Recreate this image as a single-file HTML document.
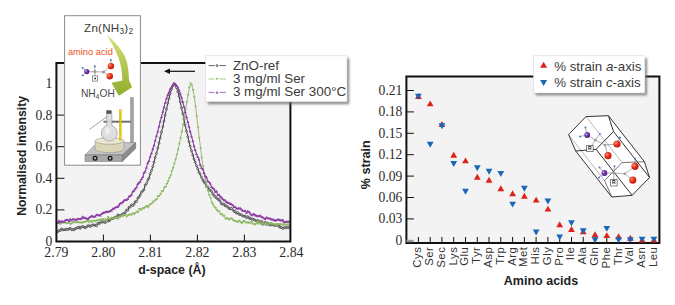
<!DOCTYPE html><html><head><meta charset="utf-8"><style>html,body{margin:0;padding:0;background:#fff;}svg{display:block;}</style></head><body><svg width="675" height="305" viewBox="0 0 675 305"><defs><symbol id="mk_b" overflow="visible"><circle cx="0" cy="0" r="1.0" fill="#d8d8d8" stroke="#333" stroke-width="0.7"/></symbol><symbol id="mk_g" overflow="visible"><path d="M-1.4,-1 L1.4,-1 L0,1.3 Z" fill="#8fb865"/></symbol><symbol id="mk_p" overflow="visible"><path d="M-1.5,1 L1.5,1 L0,-1.5 Z" fill="#8e40a2"/></symbol><linearGradient id="ga" x1="0" y1="0" x2="0" y2="1"><stop offset="0" stop-color="#d7e07a"/><stop offset="1" stop-color="#8fae2a"/></linearGradient><filter id="blur" x="-10%" y="-10%" width="120%" height="130%"><feGaussianBlur stdDeviation="1.3"/></filter><radialGradient id="gred" cx="0.35" cy="0.35" r="0.7"><stop offset="0" stop-color="#ff9a80"/><stop offset="0.45" stop-color="#e8321c"/><stop offset="1" stop-color="#c21a0c"/></radialGradient><radialGradient id="gpur" cx="0.35" cy="0.35" r="0.7"><stop offset="0" stop-color="#c8a0e8"/><stop offset="0.45" stop-color="#6b36a8"/><stop offset="1" stop-color="#4a2080"/></radialGradient></defs><rect width="675" height="305" fill="#fff"/><rect x="56.4" y="63.0" width="233.99999999999997" height="178.5" fill="#f3f3f3"/>
<path d="M57.8,231.7 L59.0,230.7 L60.2,230.4 L61.5,229.0 L62.8,229.9 L64.0,229.7 L65.2,229.7 L66.5,229.2 L67.8,229.5 L69.0,229.0 L70.2,228.3 L71.5,229.6 L72.8,229.5 L74.0,229.8 L75.2,228.6 L76.5,228.1 L77.8,227.8 L79.0,227.0 L80.2,228.4 L81.5,226.9 L82.8,226.6 L84.0,227.0 L85.2,227.9 L86.5,226.9 L87.8,225.8 L89.0,225.7 L90.2,226.4 L91.5,225.6 L92.8,224.9 L94.0,225.0 L95.2,225.3 L96.5,225.8 L97.8,223.4 L99.0,223.4 L100.2,223.0 L101.5,221.5 L102.8,222.1 L104.0,221.7 L105.2,222.6 L106.5,221.4 L107.8,220.0 L109.0,221.0 L110.2,219.8 L111.5,218.4 L112.8,218.6 L114.0,218.0 L115.2,217.2 L116.5,217.2 L117.8,215.0 L119.0,215.6 L120.2,215.7 L121.5,214.8 L122.8,214.2 L124.0,213.3 L125.2,212.6 L126.5,210.0 L127.8,210.2 L129.0,207.3 L130.2,207.0 L131.5,204.9 L132.8,205.5 L134.0,204.3 L135.2,201.8 L136.5,201.5 L137.8,198.2 L139.0,197.0 L140.2,195.0 L141.5,192.2 L142.8,190.9 L144.0,189.5 L145.2,185.1 L146.5,183.6 L147.8,180.0 L149.0,178.1 L150.2,173.9 L151.5,170.4 L152.8,166.6 L154.0,162.2 L155.2,157.4 L156.5,153.4 L157.8,148.0 L159.0,143.2 L160.2,137.9 L161.5,132.1 L162.8,126.6 L164.0,121.0 L165.2,115.0 L166.5,109.2 L167.8,103.2 L169.0,98.4 L170.2,93.6 L171.5,89.4 L172.8,85.7 L174.0,83.6 L175.2,84.7 L176.5,87.5 L177.8,91.6 L179.0,96.1 L180.2,101.6 L181.5,107.9 L182.8,113.7 L184.0,119.3 L185.2,125.4 L186.5,131.2 L187.8,136.8 L189.0,141.7 L190.2,146.3 L191.5,150.7 L192.8,155.1 L194.0,159.1 L195.2,162.1 L196.5,165.7 L197.8,168.7 L199.0,172.3 L200.2,174.1 L201.5,177.4 L202.8,180.0 L204.0,181.9 L205.2,183.2 L206.5,186.5 L207.8,187.1 L209.0,189.5 L210.2,190.4 L211.5,191.3 L212.8,194.1 L214.0,195.5 L215.2,196.6 L216.5,198.1 L217.8,198.8 L219.0,199.9 L220.2,201.3 L221.5,203.8 L222.8,204.1 L224.0,204.2 L225.2,205.8 L226.5,206.0 L227.8,206.9 L229.0,208.6 L230.2,208.5 L231.5,208.5 L232.8,209.8 L234.0,211.1 L235.2,211.8 L236.5,213.2 L237.8,212.6 L239.0,214.2 L240.2,214.6 L241.5,214.8 L242.8,216.0 L244.0,216.3 L245.2,216.0 L246.5,217.7 L247.8,216.7 L249.0,218.1 L250.2,218.5 L251.5,219.2 L252.8,218.9 L254.0,219.8 L255.2,220.2 L256.5,221.3 L257.8,220.5 L259.0,221.5 L260.2,221.7 L261.5,221.3 L262.8,224.3 L264.0,222.9 L265.2,222.3 L266.5,224.5 L267.8,223.2 L269.0,224.5 L270.2,225.1 L271.5,224.4 L272.8,224.8 L274.0,225.1 L275.2,225.6 L276.5,224.9 L277.8,225.4 L279.0,226.4 L280.2,227.4 L281.5,227.4 L282.8,228.4 L284.0,227.9 L285.2,227.4 L286.5,227.9 L287.8,226.9 L289.0,227.8" fill="none" stroke="#333333" stroke-width="1.0" stroke-linejoin="round"/>
<use href="#mk_b" x="57.8" y="231.7"/><use href="#mk_b" x="59.0" y="230.7"/><use href="#mk_b" x="60.2" y="230.4"/><use href="#mk_b" x="61.5" y="229.0"/><use href="#mk_b" x="62.8" y="229.9"/><use href="#mk_b" x="64.0" y="229.7"/><use href="#mk_b" x="65.2" y="229.7"/><use href="#mk_b" x="66.5" y="229.2"/><use href="#mk_b" x="67.8" y="229.5"/><use href="#mk_b" x="69.0" y="229.0"/><use href="#mk_b" x="70.2" y="228.3"/><use href="#mk_b" x="71.5" y="229.6"/><use href="#mk_b" x="72.8" y="229.5"/><use href="#mk_b" x="74.0" y="229.8"/><use href="#mk_b" x="75.2" y="228.6"/><use href="#mk_b" x="76.5" y="228.1"/><use href="#mk_b" x="77.8" y="227.8"/><use href="#mk_b" x="79.0" y="227.0"/><use href="#mk_b" x="80.2" y="228.4"/><use href="#mk_b" x="81.5" y="226.9"/><use href="#mk_b" x="82.8" y="226.6"/><use href="#mk_b" x="84.0" y="227.0"/><use href="#mk_b" x="85.2" y="227.9"/><use href="#mk_b" x="86.5" y="226.9"/><use href="#mk_b" x="87.8" y="225.8"/><use href="#mk_b" x="89.0" y="225.7"/><use href="#mk_b" x="90.2" y="226.4"/><use href="#mk_b" x="91.5" y="225.6"/><use href="#mk_b" x="92.8" y="224.9"/><use href="#mk_b" x="94.0" y="225.0"/><use href="#mk_b" x="95.2" y="225.3"/><use href="#mk_b" x="96.5" y="225.8"/><use href="#mk_b" x="97.8" y="223.4"/><use href="#mk_b" x="99.0" y="223.4"/><use href="#mk_b" x="100.2" y="223.0"/><use href="#mk_b" x="101.5" y="221.5"/><use href="#mk_b" x="102.8" y="222.1"/><use href="#mk_b" x="104.0" y="221.7"/><use href="#mk_b" x="105.2" y="222.6"/><use href="#mk_b" x="106.5" y="221.4"/><use href="#mk_b" x="107.8" y="220.0"/><use href="#mk_b" x="109.0" y="221.0"/><use href="#mk_b" x="110.2" y="219.8"/><use href="#mk_b" x="111.5" y="218.4"/><use href="#mk_b" x="112.8" y="218.6"/><use href="#mk_b" x="114.0" y="218.0"/><use href="#mk_b" x="115.2" y="217.2"/><use href="#mk_b" x="116.5" y="217.2"/><use href="#mk_b" x="117.8" y="215.0"/><use href="#mk_b" x="119.0" y="215.6"/><use href="#mk_b" x="120.2" y="215.7"/><use href="#mk_b" x="121.5" y="214.8"/><use href="#mk_b" x="122.8" y="214.2"/><use href="#mk_b" x="124.0" y="213.3"/><use href="#mk_b" x="125.2" y="212.6"/><use href="#mk_b" x="126.5" y="210.0"/><use href="#mk_b" x="127.8" y="210.2"/><use href="#mk_b" x="129.0" y="207.3"/><use href="#mk_b" x="130.2" y="207.0"/><use href="#mk_b" x="131.5" y="204.9"/><use href="#mk_b" x="132.8" y="205.5"/><use href="#mk_b" x="134.0" y="204.3"/><use href="#mk_b" x="135.2" y="201.8"/><use href="#mk_b" x="136.5" y="201.5"/><use href="#mk_b" x="137.8" y="198.2"/><use href="#mk_b" x="139.0" y="197.0"/><use href="#mk_b" x="140.2" y="195.0"/><use href="#mk_b" x="141.5" y="192.2"/><use href="#mk_b" x="142.8" y="190.9"/><use href="#mk_b" x="144.0" y="189.5"/><use href="#mk_b" x="145.2" y="185.1"/><use href="#mk_b" x="146.5" y="183.6"/><use href="#mk_b" x="147.8" y="180.0"/><use href="#mk_b" x="149.0" y="178.1"/><use href="#mk_b" x="150.2" y="173.9"/><use href="#mk_b" x="151.5" y="170.4"/><use href="#mk_b" x="152.8" y="166.6"/><use href="#mk_b" x="154.0" y="162.2"/><use href="#mk_b" x="155.2" y="157.4"/><use href="#mk_b" x="156.5" y="153.4"/><use href="#mk_b" x="157.8" y="148.0"/><use href="#mk_b" x="159.0" y="143.2"/><use href="#mk_b" x="160.2" y="137.9"/><use href="#mk_b" x="161.5" y="132.1"/><use href="#mk_b" x="162.8" y="126.6"/><use href="#mk_b" x="164.0" y="121.0"/><use href="#mk_b" x="165.2" y="115.0"/><use href="#mk_b" x="166.5" y="109.2"/><use href="#mk_b" x="167.8" y="103.2"/><use href="#mk_b" x="169.0" y="98.4"/><use href="#mk_b" x="170.2" y="93.6"/><use href="#mk_b" x="171.5" y="89.4"/><use href="#mk_b" x="172.8" y="85.7"/><use href="#mk_b" x="174.0" y="83.6"/><use href="#mk_b" x="175.2" y="84.7"/><use href="#mk_b" x="176.5" y="87.5"/><use href="#mk_b" x="177.8" y="91.6"/><use href="#mk_b" x="179.0" y="96.1"/><use href="#mk_b" x="180.2" y="101.6"/><use href="#mk_b" x="181.5" y="107.9"/><use href="#mk_b" x="182.8" y="113.7"/><use href="#mk_b" x="184.0" y="119.3"/><use href="#mk_b" x="185.2" y="125.4"/><use href="#mk_b" x="186.5" y="131.2"/><use href="#mk_b" x="187.8" y="136.8"/><use href="#mk_b" x="189.0" y="141.7"/><use href="#mk_b" x="190.2" y="146.3"/><use href="#mk_b" x="191.5" y="150.7"/><use href="#mk_b" x="192.8" y="155.1"/><use href="#mk_b" x="194.0" y="159.1"/><use href="#mk_b" x="195.2" y="162.1"/><use href="#mk_b" x="196.5" y="165.7"/><use href="#mk_b" x="197.8" y="168.7"/><use href="#mk_b" x="199.0" y="172.3"/><use href="#mk_b" x="200.2" y="174.1"/><use href="#mk_b" x="201.5" y="177.4"/><use href="#mk_b" x="202.8" y="180.0"/><use href="#mk_b" x="204.0" y="181.9"/><use href="#mk_b" x="205.2" y="183.2"/><use href="#mk_b" x="206.5" y="186.5"/><use href="#mk_b" x="207.8" y="187.1"/><use href="#mk_b" x="209.0" y="189.5"/><use href="#mk_b" x="210.2" y="190.4"/><use href="#mk_b" x="211.5" y="191.3"/><use href="#mk_b" x="212.8" y="194.1"/><use href="#mk_b" x="214.0" y="195.5"/><use href="#mk_b" x="215.2" y="196.6"/><use href="#mk_b" x="216.5" y="198.1"/><use href="#mk_b" x="217.8" y="198.8"/><use href="#mk_b" x="219.0" y="199.9"/><use href="#mk_b" x="220.2" y="201.3"/><use href="#mk_b" x="221.5" y="203.8"/><use href="#mk_b" x="222.8" y="204.1"/><use href="#mk_b" x="224.0" y="204.2"/><use href="#mk_b" x="225.2" y="205.8"/><use href="#mk_b" x="226.5" y="206.0"/><use href="#mk_b" x="227.8" y="206.9"/><use href="#mk_b" x="229.0" y="208.6"/><use href="#mk_b" x="230.2" y="208.5"/><use href="#mk_b" x="231.5" y="208.5"/><use href="#mk_b" x="232.8" y="209.8"/><use href="#mk_b" x="234.0" y="211.1"/><use href="#mk_b" x="235.2" y="211.8"/><use href="#mk_b" x="236.5" y="213.2"/><use href="#mk_b" x="237.8" y="212.6"/><use href="#mk_b" x="239.0" y="214.2"/><use href="#mk_b" x="240.2" y="214.6"/><use href="#mk_b" x="241.5" y="214.8"/><use href="#mk_b" x="242.8" y="216.0"/><use href="#mk_b" x="244.0" y="216.3"/><use href="#mk_b" x="245.2" y="216.0"/><use href="#mk_b" x="246.5" y="217.7"/><use href="#mk_b" x="247.8" y="216.7"/><use href="#mk_b" x="249.0" y="218.1"/><use href="#mk_b" x="250.2" y="218.5"/><use href="#mk_b" x="251.5" y="219.2"/><use href="#mk_b" x="252.8" y="218.9"/><use href="#mk_b" x="254.0" y="219.8"/><use href="#mk_b" x="255.2" y="220.2"/><use href="#mk_b" x="256.5" y="221.3"/><use href="#mk_b" x="257.8" y="220.5"/><use href="#mk_b" x="259.0" y="221.5"/><use href="#mk_b" x="260.2" y="221.7"/><use href="#mk_b" x="261.5" y="221.3"/><use href="#mk_b" x="262.8" y="224.3"/><use href="#mk_b" x="264.0" y="222.9"/><use href="#mk_b" x="265.2" y="222.3"/><use href="#mk_b" x="266.5" y="224.5"/><use href="#mk_b" x="267.8" y="223.2"/><use href="#mk_b" x="269.0" y="224.5"/><use href="#mk_b" x="270.2" y="225.1"/><use href="#mk_b" x="271.5" y="224.4"/><use href="#mk_b" x="272.8" y="224.8"/><use href="#mk_b" x="274.0" y="225.1"/><use href="#mk_b" x="275.2" y="225.6"/><use href="#mk_b" x="276.5" y="224.9"/><use href="#mk_b" x="277.8" y="225.4"/><use href="#mk_b" x="279.0" y="226.4"/><use href="#mk_b" x="280.2" y="227.4"/><use href="#mk_b" x="281.5" y="227.4"/><use href="#mk_b" x="282.8" y="228.4"/><use href="#mk_b" x="284.0" y="227.9"/><use href="#mk_b" x="285.2" y="227.4"/><use href="#mk_b" x="286.5" y="227.9"/><use href="#mk_b" x="287.8" y="226.9"/><use href="#mk_b" x="289.0" y="227.8"/>
<path d="M58.1,222.8 L59.3,223.6 L60.6,223.8 L61.8,222.9 L63.1,222.8 L64.3,222.1 L65.6,223.0 L66.8,223.2 L68.1,223.2 L69.3,222.3 L70.6,224.1 L71.8,223.5 L73.1,222.5 L74.3,222.2 L75.6,222.2 L76.8,222.4 L78.1,222.2 L79.3,222.5 L80.6,222.5 L81.8,222.8 L83.1,222.6 L84.3,221.7 L85.6,221.9 L86.8,221.3 L88.1,221.0 L89.3,222.5 L90.6,220.9 L91.8,222.3 L93.1,220.7 L94.3,220.9 L95.6,221.3 L96.8,220.5 L98.1,220.6 L99.3,220.0 L100.6,219.7 L101.8,219.8 L103.1,219.3 L104.3,220.6 L105.6,219.2 L106.8,220.3 L108.1,217.2 L109.3,218.8 L110.6,218.9 L111.8,218.2 L113.1,218.8 L114.3,218.3 L115.6,217.5 L116.8,217.7 L118.1,219.0 L119.3,217.1 L120.6,216.8 L121.8,216.0 L123.1,216.1 L124.3,214.9 L125.6,215.3 L126.8,216.6 L128.1,215.4 L129.3,214.7 L130.6,214.6 L131.8,214.7 L133.1,213.5 L134.3,214.0 L135.6,212.9 L136.8,211.8 L138.1,212.3 L139.3,209.1 L140.6,209.6 L141.8,209.6 L143.1,208.2 L144.3,208.0 L145.6,206.9 L146.8,206.1 L148.1,207.5 L149.3,205.3 L150.6,203.9 L151.8,203.8 L153.1,201.8 L154.3,201.4 L155.6,199.8 L156.8,199.4 L158.1,196.0 L159.3,195.9 L160.6,193.9 L161.8,191.3 L163.1,190.9 L164.3,187.6 L165.6,187.0 L166.8,183.9 L168.1,181.4 L169.3,178.2 L170.6,175.6 L171.8,171.3 L173.1,168.0 L174.3,163.8 L175.6,159.6 L176.8,154.8 L178.1,149.7 L179.3,143.8 L180.6,138.2 L181.8,131.8 L183.1,124.4 L184.3,117.1 L185.6,109.6 L186.8,102.2 L188.1,95.0 L189.3,87.7 L190.6,83.4 L191.8,85.0 L193.1,89.9 L194.3,97.2 L195.6,106.7 L196.8,116.5 L198.1,127.8 L199.3,138.3 L200.6,148.2 L201.8,157.7 L203.1,166.3 L204.3,174.2 L205.6,180.3 L206.8,185.8 L208.1,190.9 L209.3,195.1 L210.6,198.2 L211.8,202.7 L213.1,204.4 L214.3,206.8 L215.6,207.9 L216.8,210.1 L218.1,211.5 L219.3,211.5 L220.6,214.2 L221.8,213.9 L223.1,215.9 L224.3,215.8 L225.6,218.7 L226.8,218.2 L228.1,219.1 L229.3,219.7 L230.6,218.7 L231.8,218.4 L233.1,220.1 L234.3,221.2 L235.6,221.0 L236.8,221.7 L238.1,222.1 L239.3,220.7 L240.6,222.1 L241.8,223.4 L243.1,221.9 L244.3,221.1 L245.6,222.4 L246.8,222.4 L248.1,223.1 L249.3,222.4 L250.6,223.2 L251.8,221.8 L253.1,223.9 L254.3,224.4 L255.6,224.3 L256.9,222.6 L258.1,223.9 L259.4,221.8 L260.6,224.0 L261.9,223.8 L263.1,223.3 L264.4,224.2 L265.6,224.1 L266.9,224.7 L268.1,224.2 L269.4,224.3 L270.6,222.9 L271.9,223.5 L273.1,224.0 L274.4,224.5 L275.6,224.4 L276.9,225.4 L278.1,223.9 L279.4,224.3 L280.6,224.6 L281.9,224.4 L283.1,224.9 L284.4,224.2 L285.6,225.5 L286.9,224.4 L288.1,225.3 L289.4,224.6" fill="none" stroke="#8fb865" stroke-width="0.9" stroke-linejoin="round"/>
<use href="#mk_g" x="58.1" y="222.8"/><use href="#mk_g" x="59.3" y="223.6"/><use href="#mk_g" x="60.6" y="223.8"/><use href="#mk_g" x="61.8" y="222.9"/><use href="#mk_g" x="63.1" y="222.8"/><use href="#mk_g" x="64.3" y="222.1"/><use href="#mk_g" x="65.6" y="223.0"/><use href="#mk_g" x="66.8" y="223.2"/><use href="#mk_g" x="68.1" y="223.2"/><use href="#mk_g" x="69.3" y="222.3"/><use href="#mk_g" x="70.6" y="224.1"/><use href="#mk_g" x="71.8" y="223.5"/><use href="#mk_g" x="73.1" y="222.5"/><use href="#mk_g" x="74.3" y="222.2"/><use href="#mk_g" x="75.6" y="222.2"/><use href="#mk_g" x="76.8" y="222.4"/><use href="#mk_g" x="78.1" y="222.2"/><use href="#mk_g" x="79.3" y="222.5"/><use href="#mk_g" x="80.6" y="222.5"/><use href="#mk_g" x="81.8" y="222.8"/><use href="#mk_g" x="83.1" y="222.6"/><use href="#mk_g" x="84.3" y="221.7"/><use href="#mk_g" x="85.6" y="221.9"/><use href="#mk_g" x="86.8" y="221.3"/><use href="#mk_g" x="88.1" y="221.0"/><use href="#mk_g" x="89.3" y="222.5"/><use href="#mk_g" x="90.6" y="220.9"/><use href="#mk_g" x="91.8" y="222.3"/><use href="#mk_g" x="93.1" y="220.7"/><use href="#mk_g" x="94.3" y="220.9"/><use href="#mk_g" x="95.6" y="221.3"/><use href="#mk_g" x="96.8" y="220.5"/><use href="#mk_g" x="98.1" y="220.6"/><use href="#mk_g" x="99.3" y="220.0"/><use href="#mk_g" x="100.6" y="219.7"/><use href="#mk_g" x="101.8" y="219.8"/><use href="#mk_g" x="103.1" y="219.3"/><use href="#mk_g" x="104.3" y="220.6"/><use href="#mk_g" x="105.6" y="219.2"/><use href="#mk_g" x="106.8" y="220.3"/><use href="#mk_g" x="108.1" y="217.2"/><use href="#mk_g" x="109.3" y="218.8"/><use href="#mk_g" x="110.6" y="218.9"/><use href="#mk_g" x="111.8" y="218.2"/><use href="#mk_g" x="113.1" y="218.8"/><use href="#mk_g" x="114.3" y="218.3"/><use href="#mk_g" x="115.6" y="217.5"/><use href="#mk_g" x="116.8" y="217.7"/><use href="#mk_g" x="118.1" y="219.0"/><use href="#mk_g" x="119.3" y="217.1"/><use href="#mk_g" x="120.6" y="216.8"/><use href="#mk_g" x="121.8" y="216.0"/><use href="#mk_g" x="123.1" y="216.1"/><use href="#mk_g" x="124.3" y="214.9"/><use href="#mk_g" x="125.6" y="215.3"/><use href="#mk_g" x="126.8" y="216.6"/><use href="#mk_g" x="128.1" y="215.4"/><use href="#mk_g" x="129.3" y="214.7"/><use href="#mk_g" x="130.6" y="214.6"/><use href="#mk_g" x="131.8" y="214.7"/><use href="#mk_g" x="133.1" y="213.5"/><use href="#mk_g" x="134.3" y="214.0"/><use href="#mk_g" x="135.6" y="212.9"/><use href="#mk_g" x="136.8" y="211.8"/><use href="#mk_g" x="138.1" y="212.3"/><use href="#mk_g" x="139.3" y="209.1"/><use href="#mk_g" x="140.6" y="209.6"/><use href="#mk_g" x="141.8" y="209.6"/><use href="#mk_g" x="143.1" y="208.2"/><use href="#mk_g" x="144.3" y="208.0"/><use href="#mk_g" x="145.6" y="206.9"/><use href="#mk_g" x="146.8" y="206.1"/><use href="#mk_g" x="148.1" y="207.5"/><use href="#mk_g" x="149.3" y="205.3"/><use href="#mk_g" x="150.6" y="203.9"/><use href="#mk_g" x="151.8" y="203.8"/><use href="#mk_g" x="153.1" y="201.8"/><use href="#mk_g" x="154.3" y="201.4"/><use href="#mk_g" x="155.6" y="199.8"/><use href="#mk_g" x="156.8" y="199.4"/><use href="#mk_g" x="158.1" y="196.0"/><use href="#mk_g" x="159.3" y="195.9"/><use href="#mk_g" x="160.6" y="193.9"/><use href="#mk_g" x="161.8" y="191.3"/><use href="#mk_g" x="163.1" y="190.9"/><use href="#mk_g" x="164.3" y="187.6"/><use href="#mk_g" x="165.6" y="187.0"/><use href="#mk_g" x="166.8" y="183.9"/><use href="#mk_g" x="168.1" y="181.4"/><use href="#mk_g" x="169.3" y="178.2"/><use href="#mk_g" x="170.6" y="175.6"/><use href="#mk_g" x="171.8" y="171.3"/><use href="#mk_g" x="173.1" y="168.0"/><use href="#mk_g" x="174.3" y="163.8"/><use href="#mk_g" x="175.6" y="159.6"/><use href="#mk_g" x="176.8" y="154.8"/><use href="#mk_g" x="178.1" y="149.7"/><use href="#mk_g" x="179.3" y="143.8"/><use href="#mk_g" x="180.6" y="138.2"/><use href="#mk_g" x="181.8" y="131.8"/><use href="#mk_g" x="183.1" y="124.4"/><use href="#mk_g" x="184.3" y="117.1"/><use href="#mk_g" x="185.6" y="109.6"/><use href="#mk_g" x="186.8" y="102.2"/><use href="#mk_g" x="188.1" y="95.0"/><use href="#mk_g" x="189.3" y="87.7"/><use href="#mk_g" x="190.6" y="83.4"/><use href="#mk_g" x="191.8" y="85.0"/><use href="#mk_g" x="193.1" y="89.9"/><use href="#mk_g" x="194.3" y="97.2"/><use href="#mk_g" x="195.6" y="106.7"/><use href="#mk_g" x="196.8" y="116.5"/><use href="#mk_g" x="198.1" y="127.8"/><use href="#mk_g" x="199.3" y="138.3"/><use href="#mk_g" x="200.6" y="148.2"/><use href="#mk_g" x="201.8" y="157.7"/><use href="#mk_g" x="203.1" y="166.3"/><use href="#mk_g" x="204.3" y="174.2"/><use href="#mk_g" x="205.6" y="180.3"/><use href="#mk_g" x="206.8" y="185.8"/><use href="#mk_g" x="208.1" y="190.9"/><use href="#mk_g" x="209.3" y="195.1"/><use href="#mk_g" x="210.6" y="198.2"/><use href="#mk_g" x="211.8" y="202.7"/><use href="#mk_g" x="213.1" y="204.4"/><use href="#mk_g" x="214.3" y="206.8"/><use href="#mk_g" x="215.6" y="207.9"/><use href="#mk_g" x="216.8" y="210.1"/><use href="#mk_g" x="218.1" y="211.5"/><use href="#mk_g" x="219.3" y="211.5"/><use href="#mk_g" x="220.6" y="214.2"/><use href="#mk_g" x="221.8" y="213.9"/><use href="#mk_g" x="223.1" y="215.9"/><use href="#mk_g" x="224.3" y="215.8"/><use href="#mk_g" x="225.6" y="218.7"/><use href="#mk_g" x="226.8" y="218.2"/><use href="#mk_g" x="228.1" y="219.1"/><use href="#mk_g" x="229.3" y="219.7"/><use href="#mk_g" x="230.6" y="218.7"/><use href="#mk_g" x="231.8" y="218.4"/><use href="#mk_g" x="233.1" y="220.1"/><use href="#mk_g" x="234.3" y="221.2"/><use href="#mk_g" x="235.6" y="221.0"/><use href="#mk_g" x="236.8" y="221.7"/><use href="#mk_g" x="238.1" y="222.1"/><use href="#mk_g" x="239.3" y="220.7"/><use href="#mk_g" x="240.6" y="222.1"/><use href="#mk_g" x="241.8" y="223.4"/><use href="#mk_g" x="243.1" y="221.9"/><use href="#mk_g" x="244.3" y="221.1"/><use href="#mk_g" x="245.6" y="222.4"/><use href="#mk_g" x="246.8" y="222.4"/><use href="#mk_g" x="248.1" y="223.1"/><use href="#mk_g" x="249.3" y="222.4"/><use href="#mk_g" x="250.6" y="223.2"/><use href="#mk_g" x="251.8" y="221.8"/><use href="#mk_g" x="253.1" y="223.9"/><use href="#mk_g" x="254.3" y="224.4"/><use href="#mk_g" x="255.6" y="224.3"/><use href="#mk_g" x="256.9" y="222.6"/><use href="#mk_g" x="258.1" y="223.9"/><use href="#mk_g" x="259.4" y="221.8"/><use href="#mk_g" x="260.6" y="224.0"/><use href="#mk_g" x="261.9" y="223.8"/><use href="#mk_g" x="263.1" y="223.3"/><use href="#mk_g" x="264.4" y="224.2"/><use href="#mk_g" x="265.6" y="224.1"/><use href="#mk_g" x="266.9" y="224.7"/><use href="#mk_g" x="268.1" y="224.2"/><use href="#mk_g" x="269.4" y="224.3"/><use href="#mk_g" x="270.6" y="222.9"/><use href="#mk_g" x="271.9" y="223.5"/><use href="#mk_g" x="273.1" y="224.0"/><use href="#mk_g" x="274.4" y="224.5"/><use href="#mk_g" x="275.6" y="224.4"/><use href="#mk_g" x="276.9" y="225.4"/><use href="#mk_g" x="278.1" y="223.9"/><use href="#mk_g" x="279.4" y="224.3"/><use href="#mk_g" x="280.6" y="224.6"/><use href="#mk_g" x="281.9" y="224.4"/><use href="#mk_g" x="283.1" y="224.9"/><use href="#mk_g" x="284.4" y="224.2"/><use href="#mk_g" x="285.6" y="225.5"/><use href="#mk_g" x="286.9" y="224.4"/><use href="#mk_g" x="288.1" y="225.3"/><use href="#mk_g" x="289.4" y="224.6"/>
<path d="M57.8,222.8 L59.0,220.8 L60.2,221.9 L61.5,221.2 L62.8,221.5 L64.0,222.0 L65.2,220.3 L66.5,220.1 L67.8,220.1 L69.0,220.8 L70.2,219.2 L71.5,220.4 L72.8,219.3 L74.0,219.2 L75.2,219.5 L76.5,219.8 L77.8,219.0 L79.0,218.9 L80.2,218.9 L81.5,218.6 L82.8,216.8 L84.0,218.0 L85.2,218.1 L86.5,218.5 L87.8,218.9 L89.0,217.7 L90.2,217.0 L91.5,216.1 L92.8,216.4 L94.0,216.6 L95.2,216.5 L96.5,214.8 L97.8,215.2 L99.0,215.1 L100.2,215.4 L101.5,214.0 L102.8,213.0 L104.0,212.5 L105.2,212.2 L106.5,211.5 L107.8,211.9 L109.0,211.6 L110.2,210.7 L111.5,210.4 L112.8,208.7 L114.0,208.6 L115.2,207.4 L116.5,206.9 L117.8,206.9 L119.0,205.3 L120.2,203.2 L121.5,203.3 L122.8,202.1 L124.0,200.5 L125.2,199.9 L126.5,199.9 L127.8,199.1 L129.0,196.4 L130.2,196.0 L131.5,194.6 L132.8,191.6 L134.0,190.7 L135.2,188.9 L136.5,187.2 L137.8,184.0 L139.0,182.7 L140.2,181.4 L141.5,179.1 L142.8,177.0 L144.0,172.8 L145.2,171.4 L146.5,167.6 L147.8,163.0 L149.0,160.9 L150.2,156.6 L151.5,153.3 L152.8,148.9 L154.0,145.6 L155.2,140.4 L156.5,135.8 L157.8,131.4 L159.0,126.4 L160.2,121.5 L161.5,117.0 L162.8,111.8 L164.0,107.2 L165.2,102.8 L166.5,98.5 L167.8,95.0 L169.0,92.2 L170.2,89.1 L171.5,87.2 L172.8,85.5 L174.0,83.4 L175.2,84.2 L176.5,85.4 L177.8,87.2 L179.0,90.2 L180.2,93.5 L181.5,97.6 L182.8,102.0 L184.0,106.7 L185.2,111.9 L186.5,116.9 L187.8,122.0 L189.0,126.8 L190.2,131.5 L191.5,136.5 L192.8,140.9 L194.0,146.0 L195.2,150.0 L196.5,154.1 L197.8,157.1 L199.0,159.6 L200.2,164.8 L201.5,168.0 L202.8,169.2 L204.0,173.0 L205.2,176.3 L206.5,177.2 L207.8,181.3 L209.0,182.1 L210.2,183.6 L211.5,187.0 L212.8,188.1 L214.0,189.1 L215.2,191.7 L216.5,191.3 L217.8,195.1 L219.0,194.7 L220.2,196.6 L221.5,197.4 L222.8,199.0 L224.0,200.3 L225.2,200.2 L226.5,202.2 L227.8,202.4 L229.0,203.0 L230.2,204.1 L231.5,204.3 L232.8,205.2 L234.0,207.0 L235.2,207.0 L236.5,208.5 L237.8,208.6 L239.0,208.3 L240.2,208.3 L241.5,209.6 L242.8,210.7 L244.0,211.1 L245.2,211.0 L246.5,212.7 L247.8,211.3 L249.0,212.1 L250.2,213.4 L251.5,215.2 L252.8,214.4 L254.0,213.9 L255.2,215.3 L256.5,215.7 L257.8,216.3 L259.0,215.7 L260.2,215.8 L261.5,216.7 L262.8,217.3 L264.0,218.3 L265.2,219.0 L266.5,217.4 L267.8,217.9 L269.0,218.5 L270.2,218.6 L271.5,219.4 L272.8,219.6 L274.0,219.8 L275.2,220.7 L276.5,220.0 L277.8,219.7 L279.0,219.6 L280.2,220.2 L281.5,220.4 L282.8,220.1 L284.0,222.0 L285.2,221.9 L286.5,221.7 L287.8,221.7 L289.0,221.4" fill="none" stroke="#8e40a2" stroke-width="1.1" stroke-linejoin="round"/>
<use href="#mk_p" x="57.8" y="222.8"/><use href="#mk_p" x="59.0" y="220.8"/><use href="#mk_p" x="60.2" y="221.9"/><use href="#mk_p" x="61.5" y="221.2"/><use href="#mk_p" x="62.8" y="221.5"/><use href="#mk_p" x="64.0" y="222.0"/><use href="#mk_p" x="65.2" y="220.3"/><use href="#mk_p" x="66.5" y="220.1"/><use href="#mk_p" x="67.8" y="220.1"/><use href="#mk_p" x="69.0" y="220.8"/><use href="#mk_p" x="70.2" y="219.2"/><use href="#mk_p" x="71.5" y="220.4"/><use href="#mk_p" x="72.8" y="219.3"/><use href="#mk_p" x="74.0" y="219.2"/><use href="#mk_p" x="75.2" y="219.5"/><use href="#mk_p" x="76.5" y="219.8"/><use href="#mk_p" x="77.8" y="219.0"/><use href="#mk_p" x="79.0" y="218.9"/><use href="#mk_p" x="80.2" y="218.9"/><use href="#mk_p" x="81.5" y="218.6"/><use href="#mk_p" x="82.8" y="216.8"/><use href="#mk_p" x="84.0" y="218.0"/><use href="#mk_p" x="85.2" y="218.1"/><use href="#mk_p" x="86.5" y="218.5"/><use href="#mk_p" x="87.8" y="218.9"/><use href="#mk_p" x="89.0" y="217.7"/><use href="#mk_p" x="90.2" y="217.0"/><use href="#mk_p" x="91.5" y="216.1"/><use href="#mk_p" x="92.8" y="216.4"/><use href="#mk_p" x="94.0" y="216.6"/><use href="#mk_p" x="95.2" y="216.5"/><use href="#mk_p" x="96.5" y="214.8"/><use href="#mk_p" x="97.8" y="215.2"/><use href="#mk_p" x="99.0" y="215.1"/><use href="#mk_p" x="100.2" y="215.4"/><use href="#mk_p" x="101.5" y="214.0"/><use href="#mk_p" x="102.8" y="213.0"/><use href="#mk_p" x="104.0" y="212.5"/><use href="#mk_p" x="105.2" y="212.2"/><use href="#mk_p" x="106.5" y="211.5"/><use href="#mk_p" x="107.8" y="211.9"/><use href="#mk_p" x="109.0" y="211.6"/><use href="#mk_p" x="110.2" y="210.7"/><use href="#mk_p" x="111.5" y="210.4"/><use href="#mk_p" x="112.8" y="208.7"/><use href="#mk_p" x="114.0" y="208.6"/><use href="#mk_p" x="115.2" y="207.4"/><use href="#mk_p" x="116.5" y="206.9"/><use href="#mk_p" x="117.8" y="206.9"/><use href="#mk_p" x="119.0" y="205.3"/><use href="#mk_p" x="120.2" y="203.2"/><use href="#mk_p" x="121.5" y="203.3"/><use href="#mk_p" x="122.8" y="202.1"/><use href="#mk_p" x="124.0" y="200.5"/><use href="#mk_p" x="125.2" y="199.9"/><use href="#mk_p" x="126.5" y="199.9"/><use href="#mk_p" x="127.8" y="199.1"/><use href="#mk_p" x="129.0" y="196.4"/><use href="#mk_p" x="130.2" y="196.0"/><use href="#mk_p" x="131.5" y="194.6"/><use href="#mk_p" x="132.8" y="191.6"/><use href="#mk_p" x="134.0" y="190.7"/><use href="#mk_p" x="135.2" y="188.9"/><use href="#mk_p" x="136.5" y="187.2"/><use href="#mk_p" x="137.8" y="184.0"/><use href="#mk_p" x="139.0" y="182.7"/><use href="#mk_p" x="140.2" y="181.4"/><use href="#mk_p" x="141.5" y="179.1"/><use href="#mk_p" x="142.8" y="177.0"/><use href="#mk_p" x="144.0" y="172.8"/><use href="#mk_p" x="145.2" y="171.4"/><use href="#mk_p" x="146.5" y="167.6"/><use href="#mk_p" x="147.8" y="163.0"/><use href="#mk_p" x="149.0" y="160.9"/><use href="#mk_p" x="150.2" y="156.6"/><use href="#mk_p" x="151.5" y="153.3"/><use href="#mk_p" x="152.8" y="148.9"/><use href="#mk_p" x="154.0" y="145.6"/><use href="#mk_p" x="155.2" y="140.4"/><use href="#mk_p" x="156.5" y="135.8"/><use href="#mk_p" x="157.8" y="131.4"/><use href="#mk_p" x="159.0" y="126.4"/><use href="#mk_p" x="160.2" y="121.5"/><use href="#mk_p" x="161.5" y="117.0"/><use href="#mk_p" x="162.8" y="111.8"/><use href="#mk_p" x="164.0" y="107.2"/><use href="#mk_p" x="165.2" y="102.8"/><use href="#mk_p" x="166.5" y="98.5"/><use href="#mk_p" x="167.8" y="95.0"/><use href="#mk_p" x="169.0" y="92.2"/><use href="#mk_p" x="170.2" y="89.1"/><use href="#mk_p" x="171.5" y="87.2"/><use href="#mk_p" x="172.8" y="85.5"/><use href="#mk_p" x="174.0" y="83.4"/><use href="#mk_p" x="175.2" y="84.2"/><use href="#mk_p" x="176.5" y="85.4"/><use href="#mk_p" x="177.8" y="87.2"/><use href="#mk_p" x="179.0" y="90.2"/><use href="#mk_p" x="180.2" y="93.5"/><use href="#mk_p" x="181.5" y="97.6"/><use href="#mk_p" x="182.8" y="102.0"/><use href="#mk_p" x="184.0" y="106.7"/><use href="#mk_p" x="185.2" y="111.9"/><use href="#mk_p" x="186.5" y="116.9"/><use href="#mk_p" x="187.8" y="122.0"/><use href="#mk_p" x="189.0" y="126.8"/><use href="#mk_p" x="190.2" y="131.5"/><use href="#mk_p" x="191.5" y="136.5"/><use href="#mk_p" x="192.8" y="140.9"/><use href="#mk_p" x="194.0" y="146.0"/><use href="#mk_p" x="195.2" y="150.0"/><use href="#mk_p" x="196.5" y="154.1"/><use href="#mk_p" x="197.8" y="157.1"/><use href="#mk_p" x="199.0" y="159.6"/><use href="#mk_p" x="200.2" y="164.8"/><use href="#mk_p" x="201.5" y="168.0"/><use href="#mk_p" x="202.8" y="169.2"/><use href="#mk_p" x="204.0" y="173.0"/><use href="#mk_p" x="205.2" y="176.3"/><use href="#mk_p" x="206.5" y="177.2"/><use href="#mk_p" x="207.8" y="181.3"/><use href="#mk_p" x="209.0" y="182.1"/><use href="#mk_p" x="210.2" y="183.6"/><use href="#mk_p" x="211.5" y="187.0"/><use href="#mk_p" x="212.8" y="188.1"/><use href="#mk_p" x="214.0" y="189.1"/><use href="#mk_p" x="215.2" y="191.7"/><use href="#mk_p" x="216.5" y="191.3"/><use href="#mk_p" x="217.8" y="195.1"/><use href="#mk_p" x="219.0" y="194.7"/><use href="#mk_p" x="220.2" y="196.6"/><use href="#mk_p" x="221.5" y="197.4"/><use href="#mk_p" x="222.8" y="199.0"/><use href="#mk_p" x="224.0" y="200.3"/><use href="#mk_p" x="225.2" y="200.2"/><use href="#mk_p" x="226.5" y="202.2"/><use href="#mk_p" x="227.8" y="202.4"/><use href="#mk_p" x="229.0" y="203.0"/><use href="#mk_p" x="230.2" y="204.1"/><use href="#mk_p" x="231.5" y="204.3"/><use href="#mk_p" x="232.8" y="205.2"/><use href="#mk_p" x="234.0" y="207.0"/><use href="#mk_p" x="235.2" y="207.0"/><use href="#mk_p" x="236.5" y="208.5"/><use href="#mk_p" x="237.8" y="208.6"/><use href="#mk_p" x="239.0" y="208.3"/><use href="#mk_p" x="240.2" y="208.3"/><use href="#mk_p" x="241.5" y="209.6"/><use href="#mk_p" x="242.8" y="210.7"/><use href="#mk_p" x="244.0" y="211.1"/><use href="#mk_p" x="245.2" y="211.0"/><use href="#mk_p" x="246.5" y="212.7"/><use href="#mk_p" x="247.8" y="211.3"/><use href="#mk_p" x="249.0" y="212.1"/><use href="#mk_p" x="250.2" y="213.4"/><use href="#mk_p" x="251.5" y="215.2"/><use href="#mk_p" x="252.8" y="214.4"/><use href="#mk_p" x="254.0" y="213.9"/><use href="#mk_p" x="255.2" y="215.3"/><use href="#mk_p" x="256.5" y="215.7"/><use href="#mk_p" x="257.8" y="216.3"/><use href="#mk_p" x="259.0" y="215.7"/><use href="#mk_p" x="260.2" y="215.8"/><use href="#mk_p" x="261.5" y="216.7"/><use href="#mk_p" x="262.8" y="217.3"/><use href="#mk_p" x="264.0" y="218.3"/><use href="#mk_p" x="265.2" y="219.0"/><use href="#mk_p" x="266.5" y="217.4"/><use href="#mk_p" x="267.8" y="217.9"/><use href="#mk_p" x="269.0" y="218.5"/><use href="#mk_p" x="270.2" y="218.6"/><use href="#mk_p" x="271.5" y="219.4"/><use href="#mk_p" x="272.8" y="219.6"/><use href="#mk_p" x="274.0" y="219.8"/><use href="#mk_p" x="275.2" y="220.7"/><use href="#mk_p" x="276.5" y="220.0"/><use href="#mk_p" x="277.8" y="219.7"/><use href="#mk_p" x="279.0" y="219.6"/><use href="#mk_p" x="280.2" y="220.2"/><use href="#mk_p" x="281.5" y="220.4"/><use href="#mk_p" x="282.8" y="220.1"/><use href="#mk_p" x="284.0" y="222.0"/><use href="#mk_p" x="285.2" y="221.9"/><use href="#mk_p" x="286.5" y="221.7"/><use href="#mk_p" x="287.8" y="221.7"/><use href="#mk_p" x="289.0" y="221.4"/>
<rect x="56.4" y="63.0" width="233.99999999999997" height="178.5" fill="none" stroke="#111" stroke-width="2"/>
<text x="52.4" y="246.0" text-anchor="end" font-family='"Liberation Serif", serif' font-size="13.6" fill="#2a2a2a">0</text>
<line x1="56.4" y1="209.9" x2="64.4" y2="209.9" stroke="#111" stroke-width="1"/>
<text x="52.4" y="214.4" text-anchor="end" font-family='"Liberation Serif", serif' font-size="13.6" fill="#2a2a2a">0.2</text>
<line x1="56.4" y1="178.3" x2="64.4" y2="178.3" stroke="#111" stroke-width="1"/>
<text x="52.4" y="182.8" text-anchor="end" font-family='"Liberation Serif", serif' font-size="13.6" fill="#2a2a2a">0.4</text>
<line x1="56.4" y1="146.7" x2="64.4" y2="146.7" stroke="#111" stroke-width="1"/>
<text x="52.4" y="151.2" text-anchor="end" font-family='"Liberation Serif", serif' font-size="13.6" fill="#2a2a2a">0.6</text>
<line x1="56.4" y1="115.1" x2="64.4" y2="115.1" stroke="#111" stroke-width="1"/>
<text x="52.4" y="119.6" text-anchor="end" font-family='"Liberation Serif", serif' font-size="13.6" fill="#2a2a2a">0.8</text>
<text x="52.4" y="88.0" text-anchor="end" font-family='"Liberation Serif", serif' font-size="13.6" fill="#2a2a2a">1</text>
<text x="56.4" y="257.3" text-anchor="middle" font-family='"Liberation Serif", serif' font-size="13.8" fill="#2a2a2a">2.79</text>
<line x1="103.4" y1="241.5" x2="103.4" y2="234.5" stroke="#111" stroke-width="1"/>
<text x="103.4" y="257.3" text-anchor="middle" font-family='"Liberation Serif", serif' font-size="13.8" fill="#2a2a2a">2.80</text>
<line x1="150.4" y1="241.5" x2="150.4" y2="234.5" stroke="#111" stroke-width="1"/>
<text x="150.4" y="257.3" text-anchor="middle" font-family='"Liberation Serif", serif' font-size="13.8" fill="#2a2a2a">2.81</text>
<line x1="197.4" y1="241.5" x2="197.4" y2="234.5" stroke="#111" stroke-width="1"/>
<text x="197.4" y="257.3" text-anchor="middle" font-family='"Liberation Serif", serif' font-size="13.8" fill="#2a2a2a">2.82</text>
<line x1="244.4" y1="241.5" x2="244.4" y2="234.5" stroke="#111" stroke-width="1"/>
<text x="244.4" y="257.3" text-anchor="middle" font-family='"Liberation Serif", serif' font-size="13.8" fill="#2a2a2a">2.83</text>
<text x="291.4" y="257.3" text-anchor="middle" font-family='"Liberation Serif", serif' font-size="13.8" fill="#2a2a2a">2.84</text>
<text x="171.9" y="274" text-anchor="middle" font-family='"Liberation Sans", sans-serif' font-weight="bold" font-size="12.4" fill="#222">d-space (Å)</text>
<text transform="translate(26.1,155.9) rotate(-90)" text-anchor="middle" font-family='"Liberation Sans", sans-serif' font-weight="bold" font-size="12.2" fill="#222">Normalised intensity</text>
<line x1="195" y1="71.3" x2="168" y2="71.3" stroke="#111" stroke-width="1.2"/>
<path d="M164,71.3 L170,68.6 L170,74 Z" fill="#111"/>
<rect x="207.79999999999998" y="58.199999999999996" width="141.4" height="46.0" fill="#666" opacity="0.75" filter="url(#blur)"/>
<rect x="205.6" y="55.8" width="141.4" height="46.0" fill="#fff" stroke="#d8d8d8" stroke-width="0.6"/>
<line x1="208.5" y1="65.6" x2="214.6" y2="65.6" stroke="#333333" stroke-width="0.75"/><line x1="219.4" y1="65.6" x2="226" y2="65.6" stroke="#333333" stroke-width="0.75"/>
<use href="#mk_b" x="217" y="65.6"/>
<text x="232.9" y="69.6" font-family='"Liberation Sans", sans-serif' font-size="13.4" fill="#3a3a3a">ZnO-ref</text>
<line x1="208.5" y1="79.0" x2="214.6" y2="79.0" stroke="#8fb865" stroke-width="0.75"/><line x1="219.4" y1="79.0" x2="226" y2="79.0" stroke="#8fb865" stroke-width="0.75"/>
<use href="#mk_g" x="217" y="79.0"/>
<text x="232.9" y="83.0" font-family='"Liberation Sans", sans-serif' font-size="13.4" fill="#3a3a3a">3 mg/ml Ser</text>
<line x1="208.5" y1="92.4" x2="214.6" y2="92.4" stroke="#8e40a2" stroke-width="0.75"/><line x1="219.4" y1="92.4" x2="226" y2="92.4" stroke="#8e40a2" stroke-width="0.75"/>
<use href="#mk_p" x="217" y="92.4"/>
<text x="232.9" y="96.4" font-family='"Liberation Sans", sans-serif' font-size="13.4" fill="#3a3a3a">3 mg/ml Ser 300°C</text>
<rect x="64.6" y="15.7" width="75.8" height="149.5" fill="#fff" stroke="#8a8a8a" stroke-width="1"/>
<text x="84.1" y="31.8" font-family='"Liberation Sans", sans-serif' font-size="11.6" letter-spacing="0.25" fill="#3a3a3a">Zn(NH<tspan font-size="8.3" dy="2.6">3</tspan><tspan dy="-2.6">)</tspan><tspan font-size="8.3" dy="2.6">2</tspan></text>
<text x="67.9" y="54.6" font-family='"Liberation Sans", sans-serif' font-size="9.3" fill="#ec4f22">amino acid</text>
<text x="80.9" y="97.3" font-family='"Liberation Sans", sans-serif' font-size="10.2" fill="#4a4a4a">NH<tspan font-size="7" dy="2">4</tspan><tspan dy="-2">OH</tspan></text>
<path d="M106.5,35 C112,39 119,46 123.6,54 C127,60 128.8,68 129,80.3 L132.1,87.3 L118.8,95.8 L111.5,82.8 L122.3,80.6 C122.3,72 121,64 118.3,57.5 C115.5,50 111.5,42 106.5,35 Z" fill="url(#ga)"/>
<g stroke="#8a8a8a" stroke-width="0.7"><line x1="86.8" y1="71.6" x2="103.5" y2="72"/><line x1="94.8" y1="71.6" x2="94.8" y2="66.3"/><line x1="94.8" y1="71.6" x2="95.1" y2="76"/><line x1="103.5" y1="72" x2="110.9" y2="66.1"/><line x1="103.5" y1="72" x2="109.8" y2="76.2"/><line x1="110.9" y1="66.1" x2="110.9" y2="59.9"/><line x1="86.8" y1="71.6" x2="82.6" y2="67.9"/><line x1="86.8" y1="71.6" x2="82.6" y2="75.4"/></g>
<circle cx="86.8" cy="71.6" r="2.6" fill="url(#gpur)"/><circle cx="94.8" cy="71.6" r="1.6" fill="#9c9c9c"/><circle cx="103.5" cy="72" r="1.6" fill="#9c9c9c"/><circle cx="110.9" cy="66.1" r="3.2" fill="url(#gred)"/><circle cx="109.8" cy="76.2" r="3.2" fill="url(#gred)"/><circle cx="82.6" cy="67.9" r="0.95" fill="#3f74a8"/><circle cx="82.6" cy="75.4" r="0.95" fill="#3f74a8"/><circle cx="94.8" cy="66.3" r="0.95" fill="#3f74a8"/><circle cx="110.9" cy="59.9" r="0.95" fill="#3f74a8"/><rect x="92.5" y="75.9" width="5.2" height="5.2" fill="#fff" stroke="#555" stroke-width="0.6"/><rect x="94.3" y="77.7" width="1.6" height="1.6" fill="#222"/>
<rect x="130.3" y="97.3" width="3.3" height="49" fill="#a4a4a4" stroke="#8a8a8a" stroke-width="0.4"/><path d="M85,154.9 L97.3,142.6 L135.7,142.6 L122.4,154.9 Z" fill="#c4c4c4" stroke="#777" stroke-width="0.5"/><path d="M85,154.9 L122.4,154.9 L122.4,161.4 L85,161.4 Z" fill="#a9a9a9" stroke="#666" stroke-width="0.5"/><path d="M122.4,154.9 L135.7,142.6 L135.7,148.6 L122.4,161.4 Z" fill="#8c8c8c" stroke="#666" stroke-width="0.5"/><circle cx="95.1" cy="158.2" r="1.9" fill="none" stroke="#111" stroke-width="1.2"/><circle cx="110.1" cy="158.2" r="1.9" fill="none" stroke="#111" stroke-width="1.2"/><path d="M95,140.9 L95,149 A14.5,3.6 0 0 0 124,149 L124,140.9 Z" fill="#dad5b6" stroke="#8a8a80" stroke-width="0.5"/><ellipse cx="109.5" cy="140.9" rx="14.5" ry="3.4" fill="#e9e6d2" stroke="#8a8a80" stroke-width="0.5"/><line x1="89.6" y1="129.3" x2="106.7" y2="116.8" stroke="#8a8a8a" stroke-width="0.8"/><rect x="103.4" y="120.7" width="27.3" height="2" fill="#707070"/><path d="M106.7,113.5 L106.7,125.6 A7.9,7.9 0 1 0 111.9,125.6 L111.9,113.5 Z" fill="#dcdcdc" fill-opacity="0.9" stroke="#8a8a8a" stroke-width="0.6"/><ellipse cx="107.5" cy="131" rx="2.5" ry="3.5" fill="#f2f2f2" opacity="0.7"/><rect x="106.2" y="110.2" width="5.4" height="3.5" rx="1" fill="#555"/><rect x="119.4" y="109.6" width="1.8" height="30.8" fill="#f2d000" stroke="#c49a00" stroke-width="0.35"/><path d="M119.6,113 h1 M119.6,116 h1 M119.6,119 h1 M119.6,122 h1 M119.6,125 h1 M119.6,128 h1 M119.6,131 h1 M119.6,134 h1" stroke="#9a7a00" stroke-width="0.5"/>
<rect x="406.4" y="76.5" width="253.0" height="166.5" fill="#f3f3f3"/>
<polygon points="568.6,134.6 586.0,116.6 608.4,115.7 644.4,161.7 649.5,177.5 632.1,195.3 611.7,197.0 575.7,151.0" fill="#fff" stroke="none"/>
<g fill="none" stroke="#8a8a8a" stroke-width="0.6"><polyline points="568.6,134.6 604.6,180.6"/><polyline points="586.0,116.6 622.0,162.6"/></g><g fill="none" stroke="#555" stroke-width="0.8"><polyline points="611.7,197.0 604.6,180.6 622.0,162.6 644.4,161.7"/></g>
<g fill="none" stroke="#333" stroke-width="1" stroke-linejoin="round">
<polygon points="568.6,134.6 586.0,116.6 608.4,115.7 613.5,131.5 596.1,149.3 575.7,151.0"/>
<polyline points="644.4,161.7 649.5,177.5 632.1,195.3 611.7,197.0"/>
<polyline points="608.4,115.7 644.4,161.7"/>
<polyline points="613.5,131.5 649.5,177.5"/>
<polyline points="596.1,149.3 632.1,195.3"/>
<polyline points="575.7,151.0 611.7,197.0"/>
</g>
<g stroke="#7a7a7a" stroke-width="0.6"><line x1="587.2" y1="135" x2="595.3" y2="140.1"/><line x1="595.3" y1="140.1" x2="604.9" y2="145"/><line x1="604.9" y1="145" x2="617" y2="144"/><line x1="604.9" y1="145" x2="608" y2="155.7"/><line x1="595.3" y1="140.1" x2="589.9" y2="148.5"/><line x1="587.2" y1="135" x2="585.4" y2="127.5"/><line x1="587.2" y1="135" x2="580" y2="136.5"/><line x1="595.3" y1="140.1" x2="599.8" y2="134.1"/><line x1="617" y1="144" x2="620" y2="137.5"/></g>
<circle cx="595.3" cy="140.1" r="1.3" fill="#9a9a9a"/><circle cx="604.9" cy="145" r="1.3" fill="#9a9a9a"/>
<circle cx="587.2" cy="135" r="2.9" fill="url(#gpur)"/>
<circle cx="617" cy="144" r="3.6" fill="url(#gred)"/><circle cx="608" cy="155.7" r="3.6" fill="url(#gred)"/>
<rect x="586.6999999999999" y="145.3" width="6.4" height="6.4" fill="#fff" stroke="#333" stroke-width="0.6"/><text x="589.9" y="150.1" text-anchor="middle" font-family='"Liberation Sans", sans-serif' font-weight="bold" font-size="5" fill="#222">R</text>
<circle cx="585.4" cy="127.5" r="1" fill="#3a80c8"/>
<circle cx="580" cy="136.5" r="1" fill="#3a80c8"/>
<circle cx="599.8" cy="134.1" r="1" fill="#3a80c8"/>
<circle cx="620" cy="137.5" r="1" fill="#3a80c8"/>
<g stroke="#7a7a7a" stroke-width="0.6"><line x1="604.4" y1="173" x2="613.9" y2="173"/><line x1="613.9" y1="173" x2="624.7" y2="173.8"/><line x1="624.7" y1="173.8" x2="635" y2="166.3"/><line x1="624.7" y1="173.8" x2="632.8" y2="180.1"/><line x1="613.9" y1="173" x2="613.9" y2="182.8"/><line x1="604.4" y1="173" x2="599.5" y2="167.5"/><line x1="604.4" y1="173" x2="599" y2="177.4"/><line x1="613.9" y1="173" x2="614.5" y2="166.3"/><line x1="635" y1="166.3" x2="635" y2="158.5"/></g>
<circle cx="613.9" cy="173" r="1.3" fill="#9a9a9a"/><circle cx="624.7" cy="173.8" r="1.3" fill="#9a9a9a"/>
<circle cx="604.4" cy="173" r="2.9" fill="url(#gpur)"/>
<circle cx="635" cy="166.3" r="3.6" fill="url(#gred)"/><circle cx="632.8" cy="180.1" r="3.6" fill="url(#gred)"/>
<rect x="610.6999999999999" y="179.60000000000002" width="6.4" height="6.4" fill="#fff" stroke="#333" stroke-width="0.6"/><text x="613.9" y="184.4" text-anchor="middle" font-family='"Liberation Sans", sans-serif' font-weight="bold" font-size="5" fill="#222">R</text>
<circle cx="599.5" cy="167.5" r="1" fill="#3a80c8"/>
<circle cx="599" cy="177.4" r="1" fill="#3a80c8"/>
<circle cx="614.5" cy="166.3" r="1" fill="#3a80c8"/>
<circle cx="635" cy="158.5" r="1" fill="#3a80c8"/>
<rect x="406.4" y="76.5" width="253.0" height="166.5" fill="none" stroke="#111" stroke-width="2"/>
<rect x="406.4" y="239.8" width="7.2" height="2.4" fill="#999"/>
<text x="402.4" y="244.8" text-anchor="end" font-family='"Liberation Serif", serif' font-size="13.6" fill="#2a2a2a">0</text>
<line x1="406.4" y1="218.9" x2="413.9" y2="218.9" stroke="#111" stroke-width="1"/>
<text x="402.4" y="223.4" text-anchor="end" font-family='"Liberation Serif", serif' font-size="13.6" fill="#2a2a2a">0.03</text>
<line x1="406.4" y1="197.5" x2="413.9" y2="197.5" stroke="#111" stroke-width="1"/>
<text x="402.4" y="202.0" text-anchor="end" font-family='"Liberation Serif", serif' font-size="13.6" fill="#2a2a2a">0.06</text>
<line x1="406.4" y1="176.1" x2="413.9" y2="176.1" stroke="#111" stroke-width="1"/>
<text x="402.4" y="180.6" text-anchor="end" font-family='"Liberation Serif", serif' font-size="13.6" fill="#2a2a2a">0.09</text>
<line x1="406.4" y1="154.7" x2="413.9" y2="154.7" stroke="#111" stroke-width="1"/>
<text x="402.4" y="159.2" text-anchor="end" font-family='"Liberation Serif", serif' font-size="13.6" fill="#2a2a2a">0.12</text>
<line x1="406.4" y1="133.3" x2="413.9" y2="133.3" stroke="#111" stroke-width="1"/>
<text x="402.4" y="137.8" text-anchor="end" font-family='"Liberation Serif", serif' font-size="13.6" fill="#2a2a2a">0.15</text>
<line x1="406.4" y1="111.9" x2="413.9" y2="111.9" stroke="#111" stroke-width="1"/>
<text x="402.4" y="116.4" text-anchor="end" font-family='"Liberation Serif", serif' font-size="13.6" fill="#2a2a2a">0.18</text>
<line x1="406.4" y1="90.5" x2="413.9" y2="90.5" stroke="#111" stroke-width="1"/>
<text x="402.4" y="95.0" text-anchor="end" font-family='"Liberation Serif", serif' font-size="13.6" fill="#2a2a2a">0.21</text>
<line x1="418.4" y1="243.0" x2="418.4" y2="237.0" stroke="#111" stroke-width="1"/>
<text transform="translate(421.3,246.6) rotate(-90)" text-anchor="end" font-family='"Liberation Sans", sans-serif' font-size="11.4" letter-spacing="0.5" fill="#333">Cys</text>
<line x1="430.2" y1="243.0" x2="430.2" y2="237.0" stroke="#111" stroke-width="1"/>
<text transform="translate(433.1,246.6) rotate(-90)" text-anchor="end" font-family='"Liberation Sans", sans-serif' font-size="11.4" letter-spacing="0.5" fill="#333">Ser</text>
<line x1="441.9" y1="243.0" x2="441.9" y2="237.0" stroke="#111" stroke-width="1"/>
<text transform="translate(444.8,246.6) rotate(-90)" text-anchor="end" font-family='"Liberation Sans", sans-serif' font-size="11.4" letter-spacing="0.5" fill="#333">Sec</text>
<line x1="453.7" y1="243.0" x2="453.7" y2="237.0" stroke="#111" stroke-width="1"/>
<text transform="translate(456.6,246.6) rotate(-90)" text-anchor="end" font-family='"Liberation Sans", sans-serif' font-size="11.4" letter-spacing="0.5" fill="#333">Lys</text>
<line x1="465.5" y1="243.0" x2="465.5" y2="237.0" stroke="#111" stroke-width="1"/>
<text transform="translate(468.4,246.6) rotate(-90)" text-anchor="end" font-family='"Liberation Sans", sans-serif' font-size="11.4" letter-spacing="0.5" fill="#333">Glu</text>
<line x1="477.3" y1="243.0" x2="477.3" y2="237.0" stroke="#111" stroke-width="1"/>
<text transform="translate(480.2,246.6) rotate(-90)" text-anchor="end" font-family='"Liberation Sans", sans-serif' font-size="11.4" letter-spacing="0.5" fill="#333">Tyr</text>
<line x1="489.0" y1="243.0" x2="489.0" y2="237.0" stroke="#111" stroke-width="1"/>
<text transform="translate(491.9,246.6) rotate(-90)" text-anchor="end" font-family='"Liberation Sans", sans-serif' font-size="11.4" letter-spacing="0.5" fill="#333">Asp</text>
<line x1="500.8" y1="243.0" x2="500.8" y2="237.0" stroke="#111" stroke-width="1"/>
<text transform="translate(503.7,246.6) rotate(-90)" text-anchor="end" font-family='"Liberation Sans", sans-serif' font-size="11.4" letter-spacing="0.5" fill="#333">Trp</text>
<line x1="512.6" y1="243.0" x2="512.6" y2="237.0" stroke="#111" stroke-width="1"/>
<text transform="translate(515.5,246.6) rotate(-90)" text-anchor="end" font-family='"Liberation Sans", sans-serif' font-size="11.4" letter-spacing="0.5" fill="#333">Arg</text>
<line x1="524.4" y1="243.0" x2="524.4" y2="237.0" stroke="#111" stroke-width="1"/>
<text transform="translate(527.3,246.6) rotate(-90)" text-anchor="end" font-family='"Liberation Sans", sans-serif' font-size="11.4" letter-spacing="0.5" fill="#333">Met</text>
<line x1="536.1" y1="243.0" x2="536.1" y2="237.0" stroke="#111" stroke-width="1"/>
<text transform="translate(539.0,246.6) rotate(-90)" text-anchor="end" font-family='"Liberation Sans", sans-serif' font-size="11.4" letter-spacing="0.5" fill="#333">His</text>
<line x1="547.9" y1="243.0" x2="547.9" y2="237.0" stroke="#111" stroke-width="1"/>
<text transform="translate(550.8,246.6) rotate(-90)" text-anchor="end" font-family='"Liberation Sans", sans-serif' font-size="11.4" letter-spacing="0.5" fill="#333">Gly</text>
<line x1="559.7" y1="243.0" x2="559.7" y2="237.0" stroke="#111" stroke-width="1"/>
<text transform="translate(562.6,246.6) rotate(-90)" text-anchor="end" font-family='"Liberation Sans", sans-serif' font-size="11.4" letter-spacing="0.5" fill="#333">Pro</text>
<line x1="571.5" y1="243.0" x2="571.5" y2="237.0" stroke="#111" stroke-width="1"/>
<text transform="translate(574.4,246.6) rotate(-90)" text-anchor="end" font-family='"Liberation Sans", sans-serif' font-size="11.4" letter-spacing="0.5" fill="#333">Ile</text>
<line x1="583.2" y1="243.0" x2="583.2" y2="237.0" stroke="#111" stroke-width="1"/>
<text transform="translate(586.1,246.6) rotate(-90)" text-anchor="end" font-family='"Liberation Sans", sans-serif' font-size="11.4" letter-spacing="0.5" fill="#333">Ala</text>
<line x1="595.0" y1="243.0" x2="595.0" y2="237.0" stroke="#111" stroke-width="1"/>
<text transform="translate(597.9,246.6) rotate(-90)" text-anchor="end" font-family='"Liberation Sans", sans-serif' font-size="11.4" letter-spacing="0.5" fill="#333">Gln</text>
<line x1="606.8" y1="243.0" x2="606.8" y2="237.0" stroke="#111" stroke-width="1"/>
<text transform="translate(609.7,246.6) rotate(-90)" text-anchor="end" font-family='"Liberation Sans", sans-serif' font-size="11.4" letter-spacing="0.5" fill="#333">Phe</text>
<line x1="618.6" y1="243.0" x2="618.6" y2="237.0" stroke="#111" stroke-width="1"/>
<text transform="translate(621.5,246.6) rotate(-90)" text-anchor="end" font-family='"Liberation Sans", sans-serif' font-size="11.4" letter-spacing="0.5" fill="#333">Thr</text>
<line x1="630.4" y1="243.0" x2="630.4" y2="237.0" stroke="#111" stroke-width="1"/>
<text transform="translate(633.2,246.6) rotate(-90)" text-anchor="end" font-family='"Liberation Sans", sans-serif' font-size="11.4" letter-spacing="0.5" fill="#333">Val</text>
<line x1="642.1" y1="243.0" x2="642.1" y2="237.0" stroke="#111" stroke-width="1"/>
<text transform="translate(645.0,246.6) rotate(-90)" text-anchor="end" font-family='"Liberation Sans", sans-serif' font-size="11.4" letter-spacing="0.5" fill="#333">Asn</text>
<line x1="653.9" y1="243.0" x2="653.9" y2="237.0" stroke="#111" stroke-width="1"/>
<text transform="translate(656.8,246.6) rotate(-90)" text-anchor="end" font-family='"Liberation Sans", sans-serif' font-size="11.4" letter-spacing="0.5" fill="#333">Leu</text>
<text x="541" y="285.3" text-anchor="middle" font-family='"Liberation Sans", sans-serif' font-weight="bold" font-size="12.5" fill="#222">Amino acids</text>
<text transform="translate(369.7,164.7) rotate(-90)" text-anchor="middle" font-family='"Liberation Sans", sans-serif' font-weight="bold" font-size="12.6" fill="#222">% strain</text>
<path d="M418.40,93.04 L421.80,98.96 L415.00,98.96 Z" fill="#de2219"/>
<path d="M430.17,100.39 L433.57,106.30 L426.77,106.30 Z" fill="#de2219"/>
<path d="M441.95,121.07 L445.35,126.99 L438.55,126.99 Z" fill="#de2219"/>
<path d="M453.72,151.75 L457.12,157.66 L450.32,157.66 Z" fill="#de2219"/>
<path d="M465.50,157.45 L468.90,163.37 L462.10,163.37 Z" fill="#de2219"/>
<path d="M477.27,173.86 L480.67,179.77 L473.88,179.77 Z" fill="#de2219"/>
<path d="M489.05,176.71 L492.45,182.63 L485.65,182.63 Z" fill="#de2219"/>
<path d="M500.82,185.27 L504.22,191.19 L497.43,191.19 Z" fill="#de2219"/>
<path d="M512.60,190.26 L516.00,196.18 L509.20,196.18 Z" fill="#de2219"/>
<path d="M524.38,192.76 L527.77,198.68 L520.98,198.68 Z" fill="#de2219"/>
<path d="M536.15,196.68 L539.55,202.60 L532.75,202.60 Z" fill="#de2219"/>
<path d="M547.92,205.67 L551.32,211.59 L544.52,211.59 Z" fill="#de2219"/>
<path d="M559.70,221.29 L563.10,227.21 L556.30,227.21 Z" fill="#de2219"/>
<path d="M571.48,226.07 L574.88,231.99 L568.08,231.99 Z" fill="#de2219"/>
<path d="M583.25,228.21 L586.65,234.13 L579.85,234.13 Z" fill="#de2219"/>
<path d="M595.02,231.28 L598.42,237.19 L591.62,237.19 Z" fill="#de2219"/>
<path d="M606.80,232.13 L610.20,238.05 L603.40,238.05 Z" fill="#de2219"/>
<path d="M618.58,233.28 L621.98,239.19 L615.18,239.19 Z" fill="#de2219"/>
<path d="M630.35,234.77 L633.75,240.69 L626.95,240.69 Z" fill="#de2219"/>
<path d="M642.12,236.63 L645.52,242.54 L638.73,242.54 Z" fill="#de2219"/>
<path d="M653.90,236.63 L657.30,242.54 L650.50,242.54 Z" fill="#de2219"/>
<path d="M418.40,99.74 L421.80,93.83 L415.00,93.83 Z" fill="#1a66b9"/>
<path d="M430.17,147.68 L433.57,141.76 L426.77,141.76 Z" fill="#1a66b9"/>
<path d="M441.95,129.13 L445.35,123.21 L438.55,123.21 Z" fill="#1a66b9"/>
<path d="M453.72,166.93 L457.12,161.02 L450.32,161.02 Z" fill="#1a66b9"/>
<path d="M465.50,194.75 L468.90,188.84 L462.10,188.84 Z" fill="#1a66b9"/>
<path d="M477.27,171.21 L480.67,165.30 L473.88,165.30 Z" fill="#1a66b9"/>
<path d="M489.05,174.78 L492.45,168.87 L485.65,168.87 Z" fill="#1a66b9"/>
<path d="M500.82,176.92 L504.22,171.01 L497.43,171.01 Z" fill="#1a66b9"/>
<path d="M512.60,207.59 L516.00,201.68 L509.20,201.68 Z" fill="#1a66b9"/>
<path d="M524.38,191.69 L527.77,185.77 L520.98,185.77 Z" fill="#1a66b9"/>
<path d="M536.15,235.41 L539.55,229.50 L532.75,229.50 Z" fill="#1a66b9"/>
<path d="M547.92,204.53 L551.32,198.61 L544.52,198.61 Z" fill="#1a66b9"/>
<path d="M559.70,240.33 L563.10,234.42 L556.30,234.42 Z" fill="#1a66b9"/>
<path d="M571.48,226.14 L574.88,220.22 L568.08,220.22 Z" fill="#1a66b9"/>
<path d="M583.25,234.13 L586.65,228.21 L579.85,228.21 Z" fill="#1a66b9"/>
<path d="M595.02,243.26 L598.42,237.34 L591.62,237.34 Z" fill="#1a66b9"/>
<path d="M606.80,231.85 L610.20,225.93 L603.40,225.93 Z" fill="#1a66b9"/>
<path d="M618.58,243.26 L621.98,237.34 L615.18,237.34 Z" fill="#1a66b9"/>
<path d="M630.35,243.04 L633.75,237.13 L626.95,237.13 Z" fill="#1a66b9"/>
<path d="M642.12,242.54 L645.52,236.63 L638.73,236.63 Z" fill="#1a66b9"/>
<path d="M653.90,242.54 L657.30,236.63 L650.50,236.63 Z" fill="#1a66b9"/>
<rect x="535.7" y="58.199999999999996" width="111.39999999999998" height="37.2" fill="#666" opacity="0.75" filter="url(#blur)"/>
<rect x="533.5" y="55.8" width="111.39999999999998" height="37.2" fill="#fff" stroke="#d8d8d8" stroke-width="0.6"/>
<path d="M543.60,61.75 L547.10,67.84 L540.10,67.84 Z" fill="#de2219"/>
<path d="M543.60,86.05 L547.10,79.95 L540.10,79.95 Z" fill="#1a66b9"/>
<text x="554.2" y="70.7" font-family='"Liberation Sans", sans-serif' font-size="13.3" fill="#3a3a3a">% strain <tspan font-style="italic">a</tspan>-axis</text>
<text x="554.2" y="87.3" font-family='"Liberation Sans", sans-serif' font-size="13.3" fill="#3a3a3a">% strain <tspan font-style="italic">c</tspan>-axis</text></svg></body></html>
